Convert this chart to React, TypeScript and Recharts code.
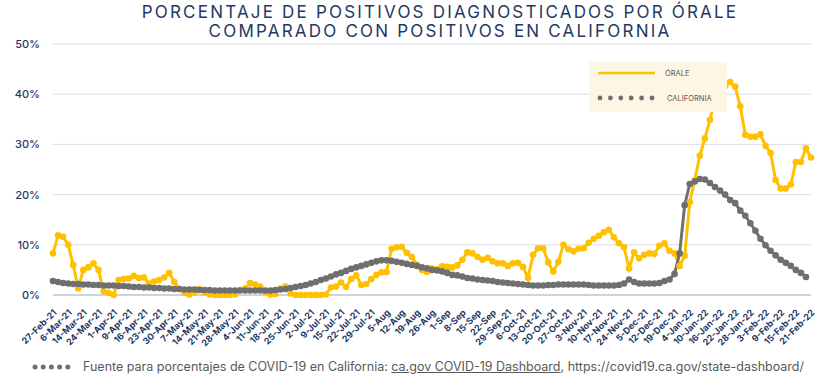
import { LineChart, Line, XAxis, YAxis, CartesianGrid } from "recharts"

const tickLabels = [
  "27-Feb-21", "6-Mar-21", "14-Mar-21", "24-Mar-21", "1-Apr-21", "9-Apr-21", "16-Apr-21",
  "23-Apr-21", "30-Apr-21", "7-May-21", "14-May-21", "21-May-21", "28-May-21", "4-Jun-21",
  "11-Jun-21", "18-Jun-21", "25-Jun-21", "2-Jul-21", "9-Jul-21", "15-Jul-21", "22-Jul-21",
  "29-Jul-21", "5-Aug", "12-Aug", "19-Aug", "26-Aug", "1-Sep", "8-Sep", "15-Sep", "22-Sep",
  "29-Sep-21", "6-Oct-21", "13-Oct-21", "20-Oct-21", "27-Oct-21", "3-Nov-21", "10-Nov-21",
  "17-Nov-21", "24-Nov-21", "5-Dec-21", "12-Dec-21", "19-Dec-21", "4-Jan-22", "10-Jan-22",
  "16-Jan-22", "22-Jan-22", "28-Jan-22", "3-Feb-22", "9-Feb-22", "15-Feb-22", "21-Feb-22",
]

// % positivos, Órale (3 lecturas por etiqueta)
const orale = [
  8.3, 11.9, 11.6, 10.0, 6.0, 1.3, 5.0, 5.5, 6.3, 5.0,
  0.8, 0.4, 0.0, 3.0, 3.2, 3.3, 3.8, 3.4, 3.5, 2.3,
  2.7, 3.0, 3.5, 4.4, 2.6, 1.2, 0.5, 0.1, 0.5, 1.2,
  0.5, 0.1, 0.0, 0.0, 0.0, 0.0, 0.1, 1.0, 1.3, 2.4,
  2.1, 1.7, 0.6, 0.1, 0.2, 1.3, 1.7, 0.3, 0.0, 0.0,
  0.0, 0.0, 0.0, 0.0, 0.1, 1.5, 1.7, 2.5, 1.6, 3.2,
  3.9, 2.0, 2.2, 3.2, 4.0, 4.5, 4.6, 9.2, 9.5, 9.6,
  8.4, 7.6, 6.0, 5.0, 4.6, 5.3, 5.1, 5.7, 5.6, 5.5,
  5.9, 7.0, 8.5, 8.3, 7.6, 7.0, 7.4, 6.7, 6.3, 6.3,
  5.8, 6.3, 6.4, 5.6, 3.4, 8.0, 9.3, 9.3, 6.5, 4.7,
  6.6, 10.0, 9.1, 8.7, 9.2, 9.3, 10.4, 11.2, 11.8, 12.5,
  13.0, 11.5, 10.3, 9.5, 5.3, 8.5, 7.3, 8.0, 8.3, 8.2,
  9.8, 10.3, 8.8, 8.3, 5.8, 7.8, 18.5, 22.9, 27.8, 31.2,
  34.9, 38.8, 40.8, 41.6, 42.4, 41.5, 37.6, 31.9, 31.5, 31.5,
  32.0, 29.7, 28.3, 22.9, 21.2, 21.2, 22.0, 26.5, 26.5, 29.2,
  27.4,
]

// % positivos, California
const california = [
  2.8, 2.6, 2.4, 2.3, 2.2, 2.2, 2.1, 2.1, 2.0, 2.0,
  1.9, 1.9, 1.9, 1.8, 1.8, 1.7, 1.6, 1.6, 1.5, 1.5,
  1.4, 1.4, 1.3, 1.3, 1.2, 1.2, 1.1, 1.1, 1.1, 1.0,
  1.0, 1.0, 0.9, 0.9, 0.9, 0.9, 0.9, 0.9, 0.9, 0.9,
  0.9, 0.9, 0.9, 0.9, 1.0, 1.1, 1.2, 1.4, 1.6, 1.8,
  2.0, 2.3, 2.6, 3.0, 3.3, 3.7, 4.1, 4.4, 4.8, 5.2,
  5.5, 5.8, 6.1, 6.4, 6.7, 6.9, 6.9, 6.8, 6.6, 6.4,
  6.2, 6.0, 5.8, 5.5, 5.3, 5.0, 4.9, 4.7, 4.4, 4.0,
  3.9, 3.7, 3.4, 3.3, 3.1, 3.0, 2.9, 2.8, 2.6, 2.5,
  2.4, 2.3, 2.2, 2.1, 2.0, 1.9, 1.9, 1.9, 2.0, 2.0,
  2.1, 2.1, 2.1, 2.1, 2.1, 2.1, 2.0, 1.9, 1.9, 1.9,
  1.9, 1.9, 2.0, 2.3, 3.1, 2.6, 2.3, 2.3, 2.3, 2.3,
  2.4, 2.8, 3.1, 4.2, 8.3, 17.9, 22.1, 22.6, 23.1, 23.0,
  22.3, 21.5, 20.8, 20.0, 18.9, 18.3, 16.8, 15.8, 14.3, 12.8,
  11.2, 9.9, 8.8, 7.9, 7.0, 6.4, 5.8, 5.0, 4.4, 3.6,
  null,
]

const yTicks = [0, 10, 20, 30, 40, 50]

const data = orale.map((v, i) => ({ i, orale: v, california: california[i] }))
const xTicks = tickLabels.map((_, k) => k * 3)

const NAVY = "#1f3864"
const YELLOW = "#ffc000"
const GREY = "#6f6f6f"
const FONT = "Inter, 'Open Sans', sans-serif"

function DateTick({ x, y, payload }: any) {
  const label = tickLabels[Math.round(payload.value / 3)]
  return (
    <text
      x={x + 2}
      y={y + 8}
      transform={`rotate(-45 ${x + 2} ${y + 8})`}
      textAnchor="end"
      dy="0.35em"
      fontSize={9}
      fontWeight={700}
      fill={NAVY}
      fontFamily={FONT}
    >
      {label}
    </text>
  )
}

export default function App() {
  return (
    <div style={{ position: "absolute", left: 0, top: 0, width: 840, height: 378, background: "#fff", fontFamily: FONT }}>
      <div
        style={{
          position: "absolute", left: 140, top: 3, width: 600, textAlign: "center",
          color: NAVY, fontSize: 17, letterSpacing: 2.2, lineHeight: "19px", whiteSpace: "nowrap",
        }}
      >
        PORCENTAJE DE POSITIVOS DIAGNOSTICADOS POR ÓRALE
        <br />
        COMPARADO CON POSITIVOS EN CALIFORNIA
      </div>

      <LineChart width={840} height={350} data={data} margin={{ top: 44, right: 29, bottom: 3, left: 8 }}>
        <CartesianGrid vertical={false} stroke="#d9dde6" />
        <XAxis
          dataKey="i"
          type="number"
          domain={[0, 150]}
          ticks={xTicks}
          interval={0}
          tickLine={false}
          axisLine={{ stroke: "#c3cad6", strokeWidth: 1.5 }}
          height={52}
          tick={<DateTick />}
        />
        <YAxis
          domain={[0, 50]}
          ticks={yTicks}
          width={45}
          axisLine={false}
          tickLine={false}
          tickMargin={7}
          tickFormatter={(v) => `${v}%`}
          tick={{ fontSize: 11, fill: NAVY, fontFamily: FONT, fontWeight: 500 }}
        />
        <Line
          dataKey="orale"
          stroke={YELLOW}
          strokeWidth={3}
          dot={{ r: 3.3, fill: YELLOW, stroke: YELLOW, strokeWidth: 0 }}
          isAnimationActive={false}
        />
        <Line
          dataKey="california"
          stroke={GREY}
          strokeWidth={3}
          dot={{ r: 3.3, fill: GREY, stroke: GREY, strokeWidth: 0 }}
          isAnimationActive={false}
        />
      </LineChart>

      <div style={{ position: "absolute", left: 589, top: 62, width: 138, height: 50, background: "#fef6e4" }}>
        <svg width={138} height={50}>
          <line x1={9} x2={66} y1={11} y2={11} stroke={YELLOW} strokeWidth={2.5} />
          <text x={76} y={11} dy="0.35em" fontSize={7.5} fill="#595959" fontFamily={FONT}>ÓRALE</text>
          {[0, 1, 2, 3, 4, 5].map((k) => (
            <circle key={k} cx={11 + k * 10.4} cy={36} r={2.4} fill={GREY} />
          ))}
          <text x={78} y={36} dy="0.35em" fontSize={7.5} fill="#595959" fontFamily={FONT}>CALIFORNIA</text>
        </svg>
      </div>

      <div style={{ position: "absolute", left: 31, top: 359, display: "flex", alignItems: "center", color: "#595959", fontSize: 12.5, whiteSpace: "nowrap" }}>
        <svg width={52} height={14}>
          {[0, 1, 2, 3, 4].map((k) => (
            <circle key={k} cx={4 + k * 8.2} cy={7} r={2.5} fill={GREY} />
          ))}
        </svg>
        <span>
          Fuente para porcentajes de COVID-19 en California:{" "}
          <span style={{ textDecoration: "underline" }}>ca.gov COVID-19 Dashboard</span>,
          https://covid19.ca.gov/state-dashboard/
        </span>
      </div>
    </div>
  )
}
